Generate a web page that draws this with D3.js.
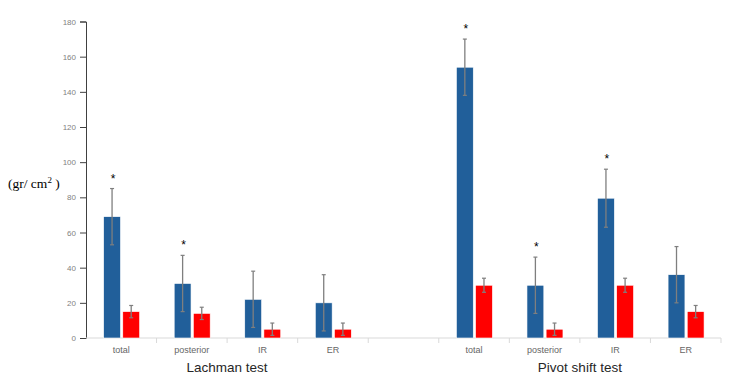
<!DOCTYPE html>
<html>
<head>
<meta charset="utf-8">
<script src="https://cdn.jsdelivr.net/npm/d3@7"></script>
<style>
  body { margin: 0; background: #fff; }
  svg { display: block; }
</style>
</head>
<body>
<div id="chart"></div>
<script>
// categories: 4 Lachman, one empty gap, 4 Pivot shift
var categories = ["L-total", "L-posterior", "L-IR", "L-ER", "gap", "P-total", "P-posterior", "P-IR", "P-ER"];
var catLabels = ["total", "posterior", "IR", "ER", "", "total", "posterior", "IR", "ER"];
var blueMeans = [69, 31, 22, 20, null, 154, 30, 79.5, 36];
var blueSD = [16, 16, 16, 16, null, 16, 16, 16.5, 16];
var redMeans = [15, 14, 5, 5, null, 30, 5, 30, 15];
var redSD = [3.5, 3.5, 3.5, 3.5, null, 4, 3.5, 4, 3.5];
var stars = [true, true, false, false, false, true, true, true, false];
var groupLabels = ["Lachman test", "Pivot shift test"];
var groupSpans = [["L-total", "L-ER"], ["P-total", "P-ER"]];
var yTicks = [0, 20, 40, 60, 80, 100, 120, 140, 160, 180];

var width = 736, height = 389;
var margin = {top: 21.5, right: 15, bottom: 51, left: 86};

var svg = d3.select("#chart").append("svg")
    .attr("width", width)
    .attr("height", height);

var x = d3.scaleBand().domain(categories).range([margin.left, width - margin.right]).padding(0),
    y = d3.scaleLinear().domain([0, 180]).range([height - margin.bottom, margin.top]);

var bw = x.bandwidth();
var x1 = d3.scaleBand().domain(["blue", "red"]).range([bw * 0.25, bw * 0.76]).paddingInner(0.12);

// y axis
var yAxis = svg.append("g")
    .attr("transform", "translate(" + margin.left + ",0)")
    .call(d3.axisLeft(y).tickValues(yTicks).tickSize(6).tickPadding(4));
yAxis.select(".domain").attr("stroke", "#404040");
yAxis.selectAll(".tick line").attr("stroke", "#404040");
yAxis.selectAll("text")
    .attr("fill", "#7f7f7f")
    .style("font-family", "Liberation Sans, Arial, sans-serif")
    .style("font-size", "8px");

// x axis line + category dividers
var y0 = y(0);
svg.append("line")
    .attr("x1", margin.left).attr("x2", width - margin.right)
    .attr("y1", y0).attr("y2", y0)
    .attr("stroke", "#d9d9d9").attr("stroke-width", 1);

svg.selectAll(".divider")
    .data(categories)
    .enter().append("line")
    .attr("class", "divider")
    .attr("x1", function(d) { return x(d) + bw; })
    .attr("x2", function(d) { return x(d) + bw; })
    .attr("y1", y0).attr("y2", y0 + 5)
    .attr("stroke", "#d9d9d9");

svg.selectAll(".catlabel")
    .data(categories)
    .enter().append("text")
    .attr("class", "catlabel")
    .attr("x", function(d) { return x(d) + bw / 2; })
    .attr("y", y0 + 14.5)
    .attr("text-anchor", "middle")
    .attr("fill", "#666666")
    .style("font-family", "Liberation Sans, Arial, sans-serif")
    .style("font-size", "9px")
    .text(function(d, i) { return catLabels[i]; });

// bars
var rows = categories.map(function(c, i) {
  return {cat: c, blue: blueMeans[i], blueSD: blueSD[i], red: redMeans[i], redSD: redSD[i], star: stars[i]};
}).filter(function(d) { return d.blue != null; });

var series = [
  {key: "blue", color: "#215f9a", mean: "blue", sd: "blueSD"},
  {key: "red", color: "#ff0000", mean: "red", sd: "redSD"}
];

series.forEach(function(s) {
  svg.selectAll(".bar-" + s.key)
      .data(rows)
      .enter().append("rect")
      .attr("class", "bar-" + s.key)
      .attr("x", function(d) { return x(d.cat) + x1(s.key); })
      .attr("y", function(d) { return y(d[s.mean]); })
      .attr("width", x1.bandwidth())
      .attr("height", function(d) { return y0 - y(d[s.mean]); })
      .attr("fill", s.color)
      .attr("stroke", "#ffffff")
      .attr("stroke-width", 0.6);

  var eb = svg.selectAll(".err-" + s.key)
      .data(rows)
      .enter().append("g")
      .attr("class", "err-" + s.key)
      .attr("transform", function(d) { return "translate(" + (x(d.cat) + x1(s.key) + x1.bandwidth() / 2) + ",0)"; });

  eb.append("line")
      .attr("y1", function(d) { return y(d[s.mean] - d[s.sd]); })
      .attr("y2", function(d) { return y(d[s.mean] + d[s.sd]); })
      .attr("stroke", "#7f7f7f").attr("stroke-width", 1.3);
  eb.append("line")
      .attr("x1", -2).attr("x2", 2)
      .attr("y1", function(d) { return y(d[s.mean] + d[s.sd]); })
      .attr("y2", function(d) { return y(d[s.mean] + d[s.sd]); })
      .attr("stroke", "#7f7f7f").attr("stroke-width", 1.2);
  eb.append("line")
      .attr("x1", -2).attr("x2", 2)
      .attr("y1", function(d) { return y(d[s.mean] - d[s.sd]); })
      .attr("y2", function(d) { return y(d[s.mean] - d[s.sd]); })
      .attr("stroke", "#7f7f7f").attr("stroke-width", 1.2);
});

// significance stars
svg.selectAll(".star")
    .data(rows.filter(function(d) { return d.star; }))
    .enter().append("text")
    .attr("class", "star")
    .attr("x", function(d) { return x(d.cat) + x1("blue") + x1.bandwidth() / 2 + 1; })
    .attr("y", function(d) { return y(d.blue + d.blueSD) - 6; })
    .attr("text-anchor", "middle")
    .attr("fill", "#000")
    .style("font-family", "Liberation Sans, Arial, sans-serif")
    .style("font-size", "12px")
    .text("*");

// group labels
svg.selectAll(".grouplabel")
    .data(groupLabels)
    .enter().append("text")
    .attr("class", "grouplabel")
    .attr("x", function(d, i) { return (x(groupSpans[i][0]) + x(groupSpans[i][1]) + bw) / 2; })
    .attr("y", y0 + 34)
    .attr("text-anchor", "middle")
    .attr("fill", "#262626")
    .style("font-family", "Liberation Sans, Arial, sans-serif")
    .style("font-size", "13.5px")
    .text(function(d) { return d; });

// y label
var ylab = svg.append("text")
    .attr("x", 8)
    .attr("y", 188)
    .attr("fill", "#000")
    .style("font-family", "Liberation Serif, Times New Roman, serif")
    .style("font-size", "13.5px");
ylab.append("tspan").text("(gr/ cm");
ylab.append("tspan").attr("dy", -5.5).style("font-size", "9px").text("2");
ylab.append("tspan").attr("dy", 5.5).text(" )");
</script>
</body>
</html>
